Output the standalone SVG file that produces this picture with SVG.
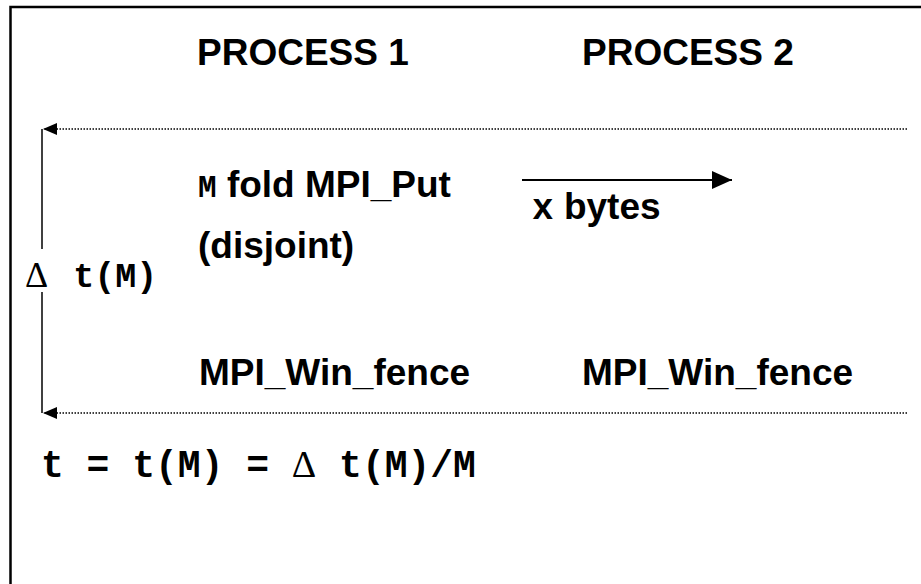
<svg xmlns="http://www.w3.org/2000/svg" width="921" height="584" viewBox="0 0 921 584">
  <defs>
    <marker id="headSmall" markerWidth="14" markerHeight="12" refX="14" refY="6" orient="auto" markerUnits="userSpaceOnUse">
      <path d="M0,0 L14,6 L0,12 Z" fill="#000"/>
    </marker>
    <marker id="headBig" markerWidth="20" markerHeight="18" refX="20" refY="9" orient="auto" markerUnits="userSpaceOnUse">
      <path d="M0,0 L20,9 L0,18 Z" fill="#000"/>
    </marker>
    <style>
      .sans { font-family: "Liberation Sans", Arial, sans-serif; font-weight: bold; font-size: 37px; fill: #000; }
      .mono { font-family: "Liberation Mono", "Courier New", monospace; font-weight: bold; fill: #000; }
      .greek { font-family: "Liberation Serif", "Times New Roman", serif; fill: #000; }
      .dotted { stroke: #000; stroke-width: 1.5; stroke-dasharray: 1.5 1.5; fill: none; }
      .solid { stroke: #000; stroke-width: 1.5; fill: none; }
    </style>
  </defs>
  <rect width="921" height="584" fill="#fff"/>

  <!-- outer frame -->
  <path d="M10.5,584 V7 H921" fill="none" stroke="#000" stroke-width="2.5"/>

  <g id="connectors">
    <!-- epoch boundaries -->
    <line class="dotted" x1="907" y1="129" x2="43" y2="129" marker-end="url(#headSmall)"/>
    <line class="dotted" x1="907" y1="413" x2="43" y2="413" marker-end="url(#headSmall)"/>
    <!-- interval bracket -->
    <line class="solid" x1="42" y1="129" x2="42" y2="249"/>
    <line class="solid" x1="42" y1="292" x2="42" y2="413"/>
    <!-- data transfer -->
    <line x1="522" y1="180" x2="732" y2="180" stroke="#000" stroke-width="2" marker-end="url(#headBig)"/>
  </g>

  <g id="process1">
    <text class="sans" x="197" y="65">PROCESS 1</text>
  </g>
  <g id="process2">
    <text class="sans" x="582" y="65">PROCESS 2</text>
  </g>

  <g id="put-op">
    <text class="sans" x="198" y="197" font-size="38"><tspan class="mono" font-size="31">M</tspan> fold MPI_Put</text>
    <text class="sans" x="198" y="258">(disjoint)</text>
  </g>

  <g id="transfer-label">
    <text class="sans" x="532" y="219"><tspan class="mono" font-size="36">x</tspan> bytes</text>
  </g>

  <g id="fence1">
    <text class="sans" x="199" y="385">MPI_Win_fence</text>
  </g>
  <g id="fence2">
    <text class="sans" x="582" y="385">MPI_Win_fence</text>
  </g>

  <g id="interval">
    <text x="25" y="287"><tspan class="greek" font-size="36">Δ</tspan><tspan class="mono" font-size="35" dx="4"> t(M)</tspan></text>
  </g>

  <g id="formula">
    <text x="41" y="477" class="mono" font-size="38">t = t(M) = <tspan class="greek" font-weight="normal">Δ</tspan> t(M)/M</text>
  </g>
</svg>
